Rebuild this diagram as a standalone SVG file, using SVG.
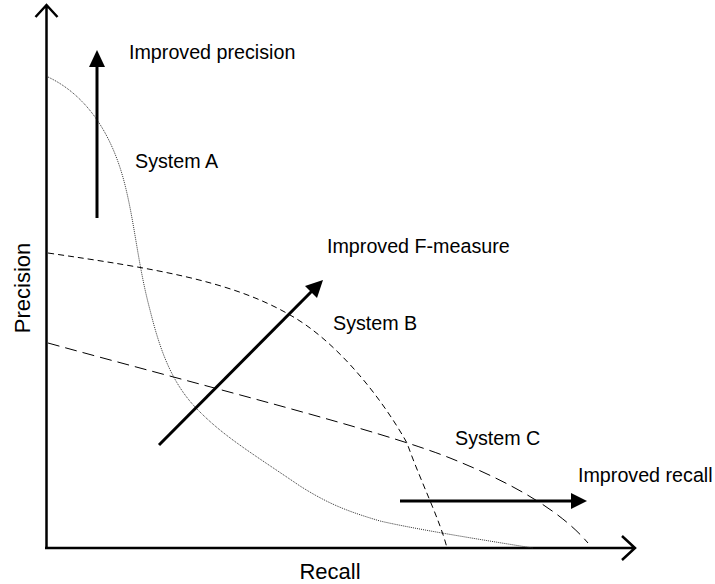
<svg xmlns="http://www.w3.org/2000/svg" width="715" height="584" viewBox="0 0 715 584">
<style>
text{font-family:"Liberation Sans",Arial,sans-serif;fill:#000}
.lbl{font-size:19.7px}
.ax{font-size:22px}
.axis{fill:none;stroke:#000;stroke-width:2.5}
.arr{fill:none;stroke:#000;stroke-width:3}
.head{fill:#000;stroke:none}
.curveA{fill:none;stroke:#333;stroke-width:1;stroke-dasharray:1 1}
.curveB{fill:none;stroke:#000;stroke-width:1;stroke-dasharray:6 4}
.curveC{fill:none;stroke:#000;stroke-width:1;stroke-dasharray:12 6}
</style>
<rect width="715" height="584" fill="#fff"/>
<g id="axes">
<path class="axis" d="M46.5,548 V5 M35.5,17 L46.5,5 L57.5,17"/>
<path class="axis" d="M45,548 H635 M622,536 L635,548 L622,560"/>
<text class="ax" x="330" y="579" text-anchor="middle">Recall</text>
<text class="ax" transform="translate(30,288) rotate(-90)" text-anchor="middle">Precision</text>
</g>
<g id="system-a">
<path class="curveA" d="M48,77 C80,92 110,125 125,185 C135,225 138,265 150,310 C160,350 172,385 200,412 C225,437 250,452 300,486 C330,505 350,512 380,521 C410,528 470,538 533,548"/>
<text class="lbl" x="135" y="168">System A</text>
</g>
<g id="system-b">
<path class="curveB" d="M48,253 C150,268 230,280 290,315 C335,340 380,395 407,443 C420,480 440,520 447,548"/>
<text class="lbl" x="333" y="330">System B</text>
</g>
<g id="system-c">
<path class="curveC" d="M48,343 C200,385 380,430 450,458 C510,482 560,510 588,543"/>
<text class="lbl" x="455" y="445">System C</text>
</g>
<g id="improved-precision">
<line class="arr" x1="97" y1="218" x2="97" y2="62"/>
<polygon class="head" points="97,50 89,67 105,67"/>
<text class="lbl" x="129" y="59">Improved precision</text>
</g>
<g id="improved-f-measure">
<line class="arr" x1="159" y1="445" x2="314" y2="289"/>
<polygon class="head" points="323,280 317,298 305,286"/>
<text class="lbl" x="327" y="253">Improved F-measure</text>
</g>
<g id="improved-recall">
<line class="arr" x1="400" y1="501" x2="575" y2="501"/>
<polygon class="head" points="587,501 571,493 571,509"/>
<text class="lbl" x="578" y="482">Improved recall</text>
</g>
</svg>
